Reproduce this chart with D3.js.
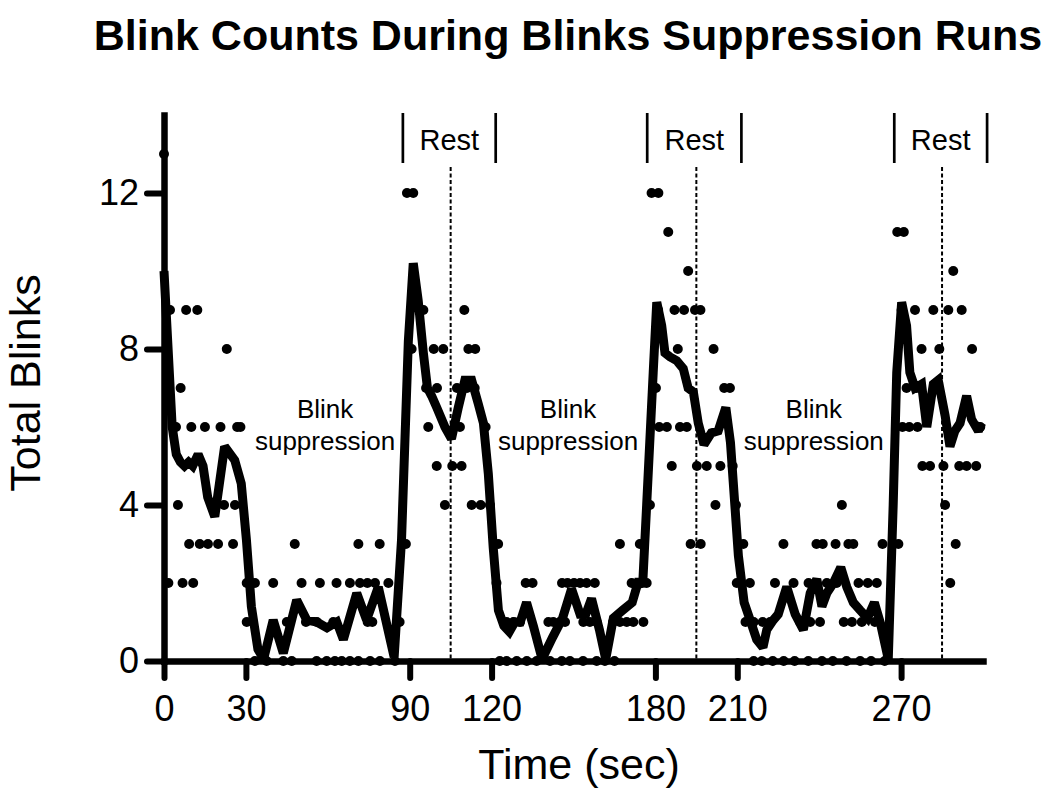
<!DOCTYPE html>
<html lang="en">
<head>
<meta charset="utf-8">
<title>Blink Counts During Blinks Suppression Runs</title>
<script src="https://d3js.org/d3.v7.min.js"></script>
<style>
  body { margin: 0; background: #fff; }
  svg text { font-family: "Liberation Sans", Arial, sans-serif; fill: #000; }
  .axis path { stroke: #000; stroke-width: 6.5; stroke-linecap: square; }
  .axis line { stroke: #000; stroke-width: 6; stroke-linecap: round; }
  .axis text { font-size: 36px; font-family: "Liberation Sans", Arial, sans-serif; }
</style>
</head>
<body>
<script>
// Mean blink count (thick line)
var lineTime = [0, 3, 4.5, 6, 7.5, 9, 10.5, 12.5, 14.3, 16, 18.6, 22.2, 25.9, 28.3, 30.2, 32, 34.4, 36.5, 40, 43.7,
  48.6, 52.3, 56, 59.7, 63.3, 65.7, 70.6, 74.2, 78.5, 84.3, 87, 89.5, 91.3, 93.1, 95, 96.5, 98, 99.9, 102.9, 105.3,
  107.8, 110.2, 112.7, 115.1, 117, 118.8, 120.6, 122.5, 124.5, 126.5, 128.5, 130.5, 132.8, 135.3, 138.5, 142.3, 146, 149.3, 152.4, 154.5,
  156.6, 159.5, 161.8, 164.6, 168, 171.5, 174, 175.3, 176.8, 179.2, 180.5, 182.3, 183.5, 185.3, 187.8, 190.2, 192, 193.9, 195.7, 197.8,
  200.5, 203, 205.8, 207.5, 208.5, 210.4, 212.5, 214.7, 217.1, 219.4, 220.8, 223.2, 225, 228.1, 231.2, 234.2, 236.7, 239.1, 241, 242.8,
  245.2, 247.9, 250.1, 252.5, 255, 257.7, 260.2, 262.5, 265.3, 267.1, 268.4, 270.2, 272, 273.2, 275.1, 277.5, 279.4, 281.8, 283.6, 286.1,
  287.9, 289.7, 291.6, 294, 295.8, 298.3, 299.5];
var lineBlinks = [10.0, 6.0, 5.3, 5.1, 5.0, 5.1, 5.0, 5.3, 5.0, 4.2, 3.7, 5.5, 5.15, 4.55, 3.1, 1.4, 0.3, 0.05, 1.05, 0.2,
  1.56, 1.05, 1.0, 0.85, 1.0, 0.55, 1.74, 1.05, 1.9, 0.1, 3.1, 8.2, 10.2, 9.25, 7.9, 7.0, 6.8, 6.5, 6.0, 5.7,
  6.5, 7.2, 7.2, 6.6, 6.1, 4.8, 2.9, 1.3, 0.9, 0.75, 1.0, 1.0, 1.5, 0.9, 0.05, 0.6, 1.1, 1.85, 1.2, 1.2,
  1.6, 0.8, 0.05, 1.1, 1.3, 1.5, 2.1, 1.9, 4.0, 7.4, 9.2, 8.6, 7.9, 7.8, 7.7, 7.5, 7.0, 6.9, 6.1, 5.55,
  5.85, 5.9, 6.5, 5.6, 4.6, 2.7, 1.5, 1.05, 0.55, 0.35, 0.8, 1.05, 1.2, 1.9, 1.2, 0.8, 1.74, 2.1, 1.4, 1.74,
  2.0, 2.4, 1.9, 1.5, 1.3, 1.1, 1.5, 0.95, 0.05, 4.0, 7.4, 9.2, 8.6, 7.4, 7.0, 7.1, 6.0, 7.1, 7.2, 6.3,
  5.5, 5.9, 6.1, 6.8, 6.2, 5.9, 6.1];

// Individual counts (dots): one list of times per count value
var dotCounts = [13, 12, 11, 10, 9, 8, 7, 6, 5, 4, 3, 2, 1, 0];
var dotTimes = [
  [0],
  [89, 91.3, 178.6, 181.1],
  [184.7, 268.6, 271],
  [192, 289.1],
  [2.2, 8.1, 12.2, 95, 110, 181, 187, 190.5, 194.5, 196.5, 270.2, 275.1, 281.8, 287.3, 292.2],
  [23, 90.7, 98.8, 102.3, 111.5, 114, 188.2, 201.3, 277.5, 284, 296],
  [6.1, 96, 100, 107.3, 111, 113.8, 180.2, 205.2, 207.3, 272, 275.7],
  [4.4, 10, 15, 20.7, 26.8, 28, 96.8, 108.4, 117.8, 181.4, 184.2, 189, 191.5, 270.5, 273, 276, 299],
  [99.9, 105.6, 109, 186, 195.2, 198.8, 203.8, 208.3, 277.8, 280.6, 285.5, 291.3, 294, 297.5],
  [5.1, 22, 26, 102.9, 112.7, 116, 119.4, 178, 202, 209.5, 248.3, 286.1],
  [9.2, 13.1, 16.1, 19.8, 25.3, 47.9, 71.2, 79, 88.6, 122.4, 167, 174.3, 192.9, 196.6, 212.2, 226.9, 239, 241.3, 246, 250.7,
   252.5, 263.2, 269, 290],
  [1.6, 6.8, 10.7, 30.3, 33.3, 40, 50.4, 57.1, 63.2, 68.1, 71.8, 74.5, 77.3, 82.2, 121.8, 132.5, 135, 145.8, 147.8, 150.2,
   152.4, 154.8, 157.8, 171.3, 173.5, 176.8, 209.8, 214.6, 223.8, 230.6, 236.1, 239, 242.8, 246.4, 254.4, 257.8, 261.1, 288],
  [30.3, 45, 52, 56, 62, 74.6, 76.3, 86.3, 125.5, 128, 130.4, 140.8, 142.6, 145, 146.9, 153.6, 156, 158.5, 164.5, 167,
   169.5, 171.9, 175.6, 213, 216, 219.3, 222, 233, 236.7, 240.3, 249, 252, 255.6, 260.4],
  [33.3, 37.6, 43.7, 46.8, 55.9, 59.6, 62.6, 65.1, 68.1, 71.2, 75.5, 79.1, 84.6, 123, 125.5, 129.2, 132.9, 136.5, 141.4, 145.7,
   148.7, 153.5, 158.5, 161.5, 165, 216, 219, 223, 227, 231, 236, 241, 245, 250, 255, 259, 264]
];

// Axis ticks
var xTicks = [0, 30, 90, 120, 180, 210, 270];
var yTicks = [0, 4, 8, 12];

// Rest period brackets, the dashed mid lines, and suppression label centres (sec)
var restStart = [87.5, 177, 267.5];
var restEnd = [121.5, 211.5, 301.5];
var restMid = [105, 195, 285];
var suppressionMid = [59, 148, 238];

var width = 1050, height = 789;

var svg = d3.select("body").append("svg")
  .attr("width", width)
  .attr("height", height);

var xScale = d3.scaleLinear().domain([0, 300]).range([164, 983]);
var yScale = d3.scaleLinear().domain([0, 14]).range([661, 115]);

// title
svg.append("text")
  .attr("x", 568)
  .attr("y", 50)
  .attr("text-anchor", "middle")
  .style("font-size", "43px")
  .style("font-weight", "bold")
  .text("Blink Counts During Blinks Suppression Runs");

// dashed mid-rest lines
svg.selectAll(".mid")
  .data(restMid)
  .enter().append("line")
  .attr("class", "mid")
  .attr("x1", function(d) { return xScale(d); })
  .attr("x2", function(d) { return xScale(d); })
  .attr("y1", 167)
  .attr("y2", yScale(0))
  .style("stroke", "#000")
  .style("stroke-width", 2)
  .style("stroke-dasharray", "4,2.5");

// rest brackets
var rest = svg.selectAll(".rest")
  .data(restStart.map(function(d, i) { return {a: d, b: restEnd[i]}; }))
  .enter().append("g")
  .attr("class", "rest");
rest.append("line")
  .attr("x1", function(d) { return xScale(d.a); })
  .attr("x2", function(d) { return xScale(d.a); })
  .attr("y1", 113).attr("y2", 163)
  .style("stroke", "#000").style("stroke-width", 2.7);
rest.append("line")
  .attr("x1", function(d) { return xScale(d.b); })
  .attr("x2", function(d) { return xScale(d.b); })
  .attr("y1", 113).attr("y2", 163)
  .style("stroke", "#000").style("stroke-width", 2.7);
rest.append("text")
  .attr("x", function(d) { return (xScale(d.a) + xScale(d.b)) / 2; })
  .attr("y", 150)
  .attr("text-anchor", "middle")
  .style("font-size", "29px")
  .text("Rest");

// suppression labels
var sup = svg.selectAll(".sup")
  .data(suppressionMid)
  .enter().append("g")
  .attr("class", "sup");
sup.append("text")
  .attr("x", function(d) { return xScale(d); })
  .attr("y", 418)
  .attr("text-anchor", "middle")
  .style("font-size", "26px")
  .text("Blink");
sup.append("text")
  .attr("x", function(d) { return xScale(d); })
  .attr("y", 450)
  .attr("text-anchor", "middle")
  .style("font-size", "26px")
  .text("suppression");

// mean line
var lineData = lineTime.map(function(t, i) { return [t, lineBlinks[i]]; });
var line = d3.line()
  .x(function(d) { return xScale(d[0]); })
  .y(function(d) { return yScale(d[1]); });
svg.append("path")
  .datum(lineData)
  .attr("d", line)
  .style("fill", "none")
  .style("stroke", "#000")
  .style("stroke-width", 9)
  .style("stroke-linejoin", "miter")
  .style("stroke-miterlimit", 2);

// dots
var dots = [];
dotCounts.forEach(function(c, i) {
  dotTimes[i].forEach(function(t) { dots.push({t: t, c: c}); });
});
svg.selectAll(".dot")
  .data(dots)
  .enter().append("circle")
  .attr("class", "dot")
  .attr("cx", function(d) { return xScale(d.t); })
  .attr("cy", function(d) { return yScale(d.c); })
  .attr("r", 5)
  .style("fill", "#000");

// axes
var yAxis = d3.axisLeft(yScale).tickValues(yTicks).tickSize(17).tickSizeOuter(0).tickPadding(8);
svg.append("g")
  .attr("class", "axis")
  .attr("transform", "translate(164,0)")
  .call(yAxis);

var xAxis = d3.axisBottom(xScale).tickValues(xTicks).tickSize(17).tickSizeOuter(0).tickPadding(17);
svg.append("g")
  .attr("class", "axis")
  .attr("transform", "translate(0,661)")
  .call(xAxis);

// axis titles
svg.append("text")
  .attr("transform", "translate(40,383) rotate(-90)")
  .attr("text-anchor", "middle")
  .style("font-size", "43px")
  .text("Total Blinks");

svg.append("text")
  .attr("x", 579)
  .attr("y", 779)
  .attr("text-anchor", "middle")
  .style("font-size", "43px")
  .text("Time (sec)");
</script>
</body>
</html>
